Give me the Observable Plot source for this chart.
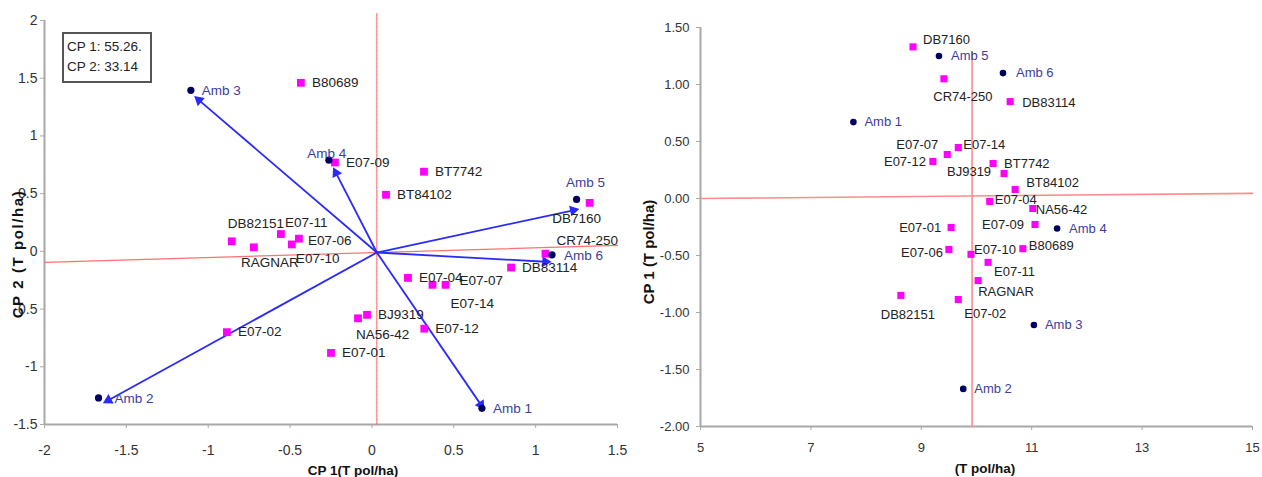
<!DOCTYPE html>
<html><head><meta charset="utf-8">
<script src="https://cdn.jsdelivr.net/npm/d3@7"></script>
<script src="https://cdn.jsdelivr.net/npm/@observablehq/plot@0.6"></script>
<style>
body{margin:0;background:#fff;font-family:"Liberation Sans",Arial,sans-serif;}
#wrap{position:relative;width:1262px;height:477px;overflow:hidden;}
.panel{position:absolute;top:0;}
.t{position:absolute;font-weight:bold;color:#111;white-space:nowrap;transform:translate(-50%,-50%);}
.legend{position:absolute;left:62px;top:32px;width:83px;height:44px;border:2px solid #555;font-size:13.5px;line-height:20px;padding:3px 0 0 3px;color:#222;box-sizing:content-box;}
</style></head><body><div id="wrap"></div><script>
// ---------- Left panel (biplot) data ----------
const genotypes = ["B80689","E07-09","BT7742","BT84102","DB7160","CR74-250","DB83114","E07-04","E07-07","E07-14","E07-12","BJ9319","NA56-42","E07-01","E07-02","DB82151","RAGNAR","E07-11","E07-10","E07-06"];
const genoCP1 = [-0.434,-0.226,0.318,0.086,1.33,1.06,0.85,0.22,0.45,0.37,0.32,-0.03,-0.085,-0.25,-0.886,-0.856,-0.721,-0.556,-0.489,-0.446];
const genoCP2 = [1.46,0.77,0.69,0.49,0.42,-0.02,-0.14,-0.23,-0.29,-0.29,-0.67,-0.55,-0.58,-0.88,-0.70,0.087,0.035,0.15,0.06,0.11];
const envs = ["Amb 1","Amb 2","Amb 3","Amb 4","Amb 5","Amb 6"];
const envCP1 = [0.672,-1.67,-1.106,-0.263,1.25,1.10];
const envCP2 = [-1.36,-1.27,1.395,0.79,0.45,-0.03];
const arrowCP1 = [0.666,-1.61,-1.057,-0.22,1.23,1.06];
const arrowCP2 = [-1.33,-1.29,1.31,0.68,0.355,-0.09];
const origin = [0.03,-0.01];
const refLineX = [-2,1.5];
const refLineY = [-0.095,0.052];
const refVertY = [-1.5,2.06];
const legendLines = ["CP 1: 55.26.","CP 2: 33.14"];
const leftXTicks = [-2,-1.5,-1,-0.5,0,0.5,1,1.5];
const leftYTicks = [-1.5,-1,-0.5,0,0.5,1,1.5,2];

// ---------- Right panel data ----------
const genoR = ["DB7160","CR74-250","DB83114","E07-12","E07-07","E07-14","BT7742","BJ9319","BT84102","E07-04","NA56-42","E07-09","E07-01","E07-06","E07-10","E07-11","B80689","RAGNAR","DB82151","E07-02"];
const genoRX = [8.85,9.41,10.61,9.21,9.47,9.67,10.30,10.50,10.70,10.24,11.02,11.06,9.54,9.50,9.90,10.21,10.84,10.03,8.63,9.67];
const genoRY = [1.33,1.05,0.85,0.325,0.386,0.447,0.307,0.219,0.079,-0.026,-0.088,-0.228,-0.254,-0.447,-0.49,-0.56,-0.44,-0.72,-0.85,-0.886];
const envRX = [7.77,9.76,11.04,11.46,9.32,10.48];
const envRY = [0.67,-1.67,-1.11,-0.263,1.25,1.10];
const refRX = [5,15];
const refRY = [0,0.045];
const refRVX = 9.92;
const refRVY = [-2,1.28];
const rightXTicks = [5,7,9,11,13,15];
const rightYTicks = [-2,-1.5,-1,-0.5,0,0.5,1,1.5];

// ---------- layout / style ----------
const MAG = "#ff00ff", NAVY = "#000060", AMBTXT = "#3d3d9e", BLUE = "#2a2aff", RED = "#ff7070", AX = "#a8a8a8";
const placeL = {
  "DB7160":["middle",-13,16],"CR74-250":["start",11,-13],"NA56-42":["start",-2,16],
  "E07-14":["start",18,19],"E07-07":["start",14,-4],"DB82151":["start",-4,-18],
  "RAGNAR":["start",-13,15],"E07-11":["start",4,-11],"E07-10":["start",4,14],"E07-06":["start",9,2],
  "Amb 4":["middle",-2,-6],"Amb 5":["middle",9,-17],"Amb 2":["start",16,1],"Amb 6":["start",12,1]
};
const placeR = {
  "DB7160":["start",10,-7],"CR74-250":["middle",19,18],"DB83114":["start",12,1],
  "E07-12":["end",-7,0],"E07-07":["end",-9,-10],"E07-14":["start",5,-3],"BT7742":["start",11,0],
  "BJ9319":["end",-13,-2],"BT84102":["start",11,-7],"E07-04":["start",5,-2],"NA56-42":["start",3,1],
  "E07-09":["end",-11,0],"E07-01":["end",-10,0],"E07-06":["end",-6,3],"E07-10":["start",3,-5],
  "E07-11":["start",6,9],"B80689":["start",6,-3],"RAGNAR":["start",0,11],"DB82151":["middle",7,19],
  "E07-02":["start",6,14],"Amb 4":["start",12,0],"Amb 5":["start",12,0],"Amb 6":["start",13,0]
};
const labelMarks = (names, xs, ys, place, fill, fontSize) => names.map((n, i) => {
  const [textAnchor, dx, dy] = place[n] ?? ["start", 11, 0];
  return Plot.text([n], {x: [xs[i]], y: [ys[i]], text: d => d, textAnchor, dx, dy, fill, fontSize, lineAnchor: "middle"});
});
const font = '"Liberation Sans", Arial, sans-serif';

// Left
const L = {width: 640, height: 477, marginLeft: 44, marginRight: 23, marginTop: 20, marginBottom: 53};
const LX = [-2, 1.5], LY = [-1.5, 2];
const kx = (L.width - L.marginLeft - L.marginRight) / (LX[1] - LX[0]);
const ky = (L.height - L.marginTop - L.marginBottom) / (LY[1] - LY[0]);
const idx = d3.range(envs.length);
const left = Plot.plot({
  ...L,
  x: {domain: LX}, y: {domain: LY},
  style: {fontFamily: font, background: "transparent", overflow: "visible"},
  marks: [
    Plot.ruleX([LX[0]], {stroke: AX, strokeWidth: 2}),
    Plot.ruleY([LY[0]], {stroke: AX, strokeWidth: 2}),
    Plot.axisX({ticks: leftXTicks, tickFormat: d => String(d), tickSize: 4, tickPadding: 17, stroke: AX, fill: "#333", fontSize: 14, label: null}),
    Plot.axisY({ticks: leftYTicks, tickFormat: d => String(d), tickSize: 4, tickPadding: 3, stroke: AX, fill: "#333", fontSize: 14, label: null}),
    Plot.line(refLineX.map((x, i) => [x, refLineY[i]]), {stroke: RED, strokeWidth: 1.2}),
    Plot.line(refVertY.map(y => [origin[0], y]), {stroke: RED, strokeWidth: 1.2, strokeDasharray: "3,1"}),
    Plot.link(idx, {x1: () => origin[0], y1: () => origin[1], x2: i => arrowCP1[i], y2: i => arrowCP2[i], stroke: BLUE, strokeWidth: 1.8}),
    Plot.dot(idx, {x: i => arrowCP1[i], y: i => arrowCP2[i], symbol: "triangle", r: 4, fill: BLUE,
      rotate: i => Math.atan2((arrowCP1[i] - origin[0]) * kx, (arrowCP2[i] - origin[1]) * ky) * 180 / Math.PI}),
    Plot.dot(genotypes, {x: (d, i) => genoCP1[i], y: (d, i) => genoCP2[i], symbol: "square", r: 4.4, fill: MAG}),
    Plot.dot(envs, {x: (d, i) => envCP1[i], y: (d, i) => envCP2[i], r: 3.6, fill: NAVY}),
    ...labelMarks(genotypes, genoCP1, genoCP2, placeL, "#222", 13.5),
    ...labelMarks(envs, envCP1, envCP2, placeL, AMBTXT, 13.5)
  ]
});

// Right
const R = {width: 622, height: 477, marginLeft: 60, marginRight: 10, marginTop: 27, marginBottom: 51};
const right = Plot.plot({
  ...R,
  x: {domain: [5, 15]}, y: {domain: [-2, 1.5]},
  style: {fontFamily: font, background: "transparent", overflow: "visible"},
  marks: [
    Plot.ruleX([5], {stroke: AX, strokeWidth: 2}),
    Plot.ruleY([-2], {stroke: AX, strokeWidth: 2}),
    Plot.axisX({ticks: rightXTicks, tickFormat: d => String(d), tickSize: 4, tickPadding: 12, stroke: AX, fill: "#333", fontSize: 13, label: null}),
    Plot.axisY({ticks: rightYTicks, tickFormat: d => d.toFixed(2), tickSize: 4, tickPadding: 7, stroke: AX, fill: "#333", fontSize: 13, label: null}),
    Plot.line(refRX.map((x, i) => [x, refRY[i]]), {stroke: "#ff8c8c", strokeWidth: 1.6}),
    Plot.line(refRVY.map(y => [refRVX, y]), {stroke: "#ff8c8c", strokeWidth: 1.6}),
    Plot.dot(genoR, {x: (d, i) => genoRX[i], y: (d, i) => genoRY[i], symbol: "square", r: 4, fill: MAG}),
    Plot.dot(envs, {x: (d, i) => envRX[i], y: (d, i) => envRY[i], r: 3.3, fill: NAVY}),
    ...labelMarks(genoR, genoRX, genoRY, placeR, "#222", 13),
    ...labelMarks(envs, envRX, envRY, placeR, AMBTXT, 13)
  ]
});

const wrap = document.getElementById("wrap");
const p1 = document.createElement("div"); p1.className = "panel"; p1.style.left = "0px"; p1.appendChild(left);
const p2 = document.createElement("div"); p2.className = "panel"; p2.style.left = "640px"; p2.appendChild(right);
wrap.appendChild(p1); wrap.appendChild(p2);

const leg = document.createElement("div"); leg.className = "legend";
leg.innerHTML = legendLines.map(s => `<div>${s}</div>`).join("");
wrap.appendChild(leg);

const titles = [
  {text: "CP 1(T pol/ha)", x: 353, y: 470, size: 13.5, rot: 0, ls: 0},
  {text: "CP 2 (T pol/ha)", x: 17, y: 254, size: 15, rot: -90, ls: 1.6},
  {text: "CP 1 (T pol/ha)", x: 648, y: 252, size: 15, rot: -90, ls: 0},
  {text: "(T pol/ha)", x: 985, y: 468, size: 13.5, rot: 0, ls: 0}
];
for (const t of titles) {
  const d = document.createElement("div"); d.className = "t"; d.textContent = t.text;
  d.style.left = t.x + "px"; d.style.top = t.y + "px"; d.style.fontSize = t.size + "px";
  d.style.letterSpacing = t.ls + "px";
  d.style.transform = `translate(-50%,-50%) rotate(${t.rot}deg)`;
  wrap.appendChild(d);
}
</script></body></html>
